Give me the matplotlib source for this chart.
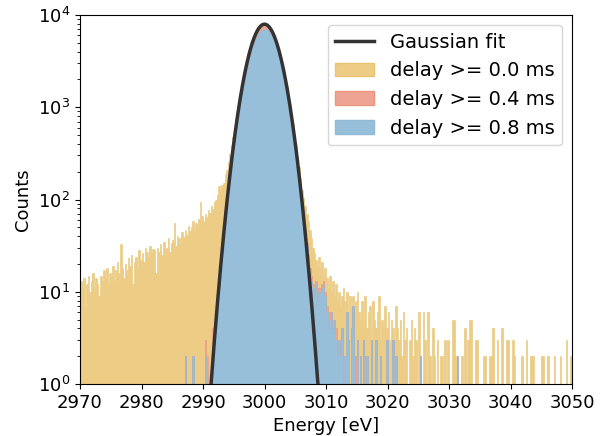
import numpy as np
import matplotlib
matplotlib.use("Agg")
import matplotlib.pyplot as plt
from matplotlib.lines import Line2D
from matplotlib.patches import Patch

# 能谱直方图：0.25 eV 一个 bin，2970-3050 eV
bin_width = 0.25
e_min, e_max = 2970.0, 3050.0

# delay >= 0.0 ms，每行 1 eV（4 个 bin）
counts_d00 = [
    13, 11, 14, 7,      # 2970
    12, 15, 10, 13,
    16, 11, 14, 12,
    9, 15, 13, 17,
    14, 18, 12, 16,
    15, 19, 13, 17,     # 2975
    21, 16, 33, 18,
    14, 20, 17, 23,
    19, 25, 12, 21,
    24, 18, 28, 22,
    26, 21, 30, 27,     # 2980
    23, 31, 26, 29,
    28, 16, 30, 27,
    33, 25, 35, 28,
    30, 38, 27, 34,
    36, 55, 31, 40,     # 2985
    38, 33, 44, 39,
    47, 41, 52, 45,
    50, 58, 46, 55,
    53, 62, 94, 66,
    58, 70, 64, 77,     # 2990
    72, 85, 79, 93,
    98, 112, 140, 124,
    145, 150, 188, 210,
    256, 312, 385, 481,
    603, 753, 940, 1169,    # 2995
    1448, 1774, 2149, 2576,
    3050, 3565, 4113, 4680,
    5242, 5802, 6330, 6809,
    7207, 7530, 7753, 7868,
    7848, 7733, 7510, 7187,  # 3000
    6759, 6280, 5752, 5192,
    4605, 4038, 3490, 2975,
    2486, 2059, 1684, 1358,
    1074, 845, 658, 508,
    386, 294, 225, 173,     # 3005
    128, 104, 85, 70,
    58, 47, 38, 30,
    26, 22, 19, 24,
    17, 21, 15, 18,
    14, 11, 15, 10,     # 3010
    13, 9, 12, 8,
    10, 7, 9, 11,
    8, 10, 6, 9,
    7, 9, 6, 8,
    10, 6, 5, 8,        # 3015
    5, 9, 4, 6,
    7, 3, 8, 5,
    4, 6, 9, 3,
    5, 4, 7, 4,
    6, 3, 5, 4,         # 3020
    3, 7, 4, 3,
    5, 2, 6, 3,
    4, 0, 3, 5,
    2, 4, 3, 0,
    6, 2, 0, 6,         # 3025
    3, 0, 6, 2,
    0, 4, 2, 0,
    3, 0, 2, 2,
    0, 3, 0, 3,
    0, 0, 5, 5,         # 3030
    2, 2, 0, 0,
    2, 0, 4, 0,
    3, 5, 5, 0,
    0, 3, 3, 0,
    0, 0, 2, 2,         # 3035
    0, 0, 2, 2,
    4, 0, 0, 3,
    0, 0, 4, 0,
    0, 3, 3, 0,
    0, 3, 2, 0,         # 3040
    0, 0, 0, 2,
    0, 0, 3, 0,
    0, 2, 2, 0,
    0, 0, 0, 0,
    2, 2, 0, 0,         # 3045
    2, 0, 0, 0,
    2, 0, 0, 0,
    2, 0, 0, 0,
    3, 0, 0, 2,
]

# delay >= 0.4 ms / 0.8 ms，只记录 2987-3032 eV 的非零区间
sub_start = 2987.0
counts_d04 = [
    2, 0, 0, 0,         # 2987
    0, 2, 0, 0,
    0, 0, 0, 0,
    0, 3, 2, 0,         # 2990
    0, 2, 4, 5,
    5, 8, 12, 18,
    27, 41, 60, 88,
    125, 176, 244, 334,
    449, 596, 779, 1004,    # 2995
    1273, 1592, 1960, 2378,
    2843, 3348, 3885, 4441,
    5002, 5551, 6069, 6538,
    6938, 7255, 7474, 7586,
    7586, 7474, 7255, 6938,  # 3000
    6538, 6069, 5551, 5002,
    4441, 3885, 3348, 2843,
    2378, 1960, 1592, 1273,
    1004, 779, 596, 449,
    334, 244, 176, 125,     # 3005
    92, 66, 47, 34,
    25, 18, 15, 12,
    10, 13, 9, 11,
    11, 12, 13, 10,
    7, 5, 6, 6,         # 3010
    5, 5, 4, 2,
    3, 3, 4, 2,
    2, 6, 3, 0,
    4, 7, 2, 2,
    3, 0, 2, 0,         # 3015
    3, 2, 2, 0,
    0, 3, 0, 0,
    3, 0, 0, 2,
    0, 0, 0, 3,
    0, 0, 0, 3,         # 3020
    0, 2, 0, 0,
    0, 0, 0, 0,
    0, 0, 0, 0,
    0, 0, 0, 0,
    0, 2, 0, 0,         # 3025
    0, 0, 0, 0,
    0, 0, 0, 0,
    0, 0, 0, 0,
    0, 0, 0, 0,
    0, 0, 0, 0,         # 3030
    0, 2, 0, 0,
]

counts_d08 = [
    2, 0, 0, 0,         # 2987
    0, 2, 0, 0,
    0, 0, 0, 0,
    0, 2, 0, 0,         # 2990
    0, 0, 2, 3,
    4, 7, 11, 17,
    25, 38, 55, 81,
    115, 162, 224, 307,
    413, 548, 717, 924,     # 2995
    1171, 1465, 1803, 2188,
    2616, 3080, 3574, 4086,
    4602, 5107, 5583, 6015,
    6383, 6675, 6876, 6979,
    6979, 6876, 6675, 6383,  # 3000
    6015, 5583, 5107, 4602,
    4086, 3574, 3080, 2616,
    2188, 1803, 1465, 1171,
    924, 717, 548, 413,
    307, 224, 162, 115,     # 3005
    84, 60, 43, 31,
    22, 16, 13, 11,
    9, 12, 8, 10,
    10, 11, 12, 9,
    6, 4, 5, 6,         # 3010
    4, 5, 3, 2,
    3, 2, 4, 0,
    2, 6, 3, 0,
    4, 7, 2, 0,
    3, 0, 2, 0,         # 3015
    3, 0, 2, 0,
    0, 3, 0, 0,
    3, 0, 0, 2,
    0, 0, 0, 3,
    0, 0, 0, 3,         # 3020
    0, 2, 0, 0,
    0, 0, 0, 0,
    0, 0, 0, 0,
    0, 0, 0, 0,
    0, 2, 0, 0,         # 3025
    0, 0, 0, 0,
    0, 0, 0, 0,
    0, 0, 0, 0,
    0, 0, 0, 0,
    0, 0, 0, 0,         # 3030
    0, 2, 0, 0,
]

# 高斯拟合参数（每 bin 计数）
fit_amp = 7950.0
fit_mu = 3000.0
fit_sigma = 2.05

labels = ["delay >= 0.0 ms", "delay >= 0.4 ms", "delay >= 0.8 ms"]
fill_colors = ["#EDCC86", "#EFA493", "#97BFDA"]
edge_colors = ["#E8C473", "#EC9580", "#90BAD8"]


def full_grid(sub_counts, start):
    """把局部计数放回完整的 bin 网格。"""
    n_bins = int(round((e_max - e_min) / bin_width))
    out = np.zeros(n_bins)
    i0 = int(round((start - e_min) / bin_width))
    out[i0:i0 + len(sub_counts)] = sub_counts
    return out


edges = np.linspace(e_min, e_max, int(round((e_max - e_min) / bin_width)) + 1)
series = [
    np.asarray(counts_d00, dtype=float),
    full_grid(counts_d04, sub_start),
    full_grid(counts_d08, sub_start),
]

plt.rcParams["font.family"] = ["DejaVu Sans"]
plt.rcParams["font.size"] = 13

fig = plt.figure(figsize=(6.07, 4.36), dpi=100)
ax = fig.add_axes([80 / 607, 52 / 436, 492 / 607, 369 / 436])

for vals, fc, ec in zip(series, fill_colors, edge_colors):
    ax.stairs(vals, edges, fill=True, facecolor=fc, edgecolor=ec, linewidth=0.4)

x_fit = np.linspace(e_min, e_max, 3000)
y_fit = fit_amp * np.exp(-(x_fit - fit_mu) ** 2 / (2 * fit_sigma ** 2))
ax.plot(x_fit, y_fit, color="#333333", lw=2.5, zorder=5)

ax.set_yscale("log")
ax.set_xlim(e_min, e_max)
ax.set_ylim(1, 1e4)
ax.set_xticks(np.arange(2970, 3051, 10))
ax.set_xlabel("Energy [eV]")
ax.set_ylabel("Counts")

handles = [Line2D([], [], color="#333333", lw=2.5, label="Gaussian fit")]
for lab, fc, ec in zip(labels, fill_colors, edge_colors):
    handles.append(Patch(facecolor=fc, edgecolor=ec, label=lab))
ax.legend(handles=handles, loc="upper right", fontsize=14)

fig.savefig("out.png", dpi=100)
